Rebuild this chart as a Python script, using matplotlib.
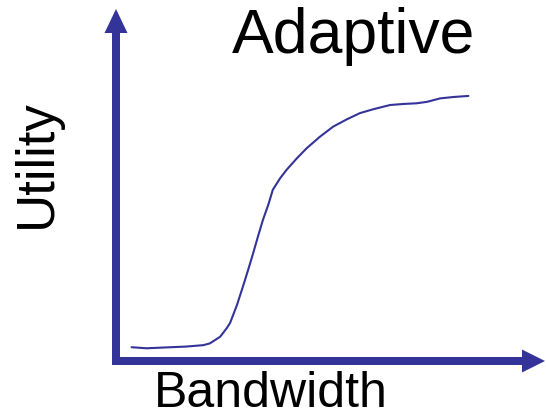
import matplotlib
matplotlib.use("Agg")
import matplotlib.pyplot as plt

plt.rcParams["font.family"] = ["Liberation Sans", "DejaVu Sans"]

# Utility vs bandwidth curve, normalised 0..1 on both axes
bandwidth = [0.034, 0.069, 0.163, 0.202, 0.217, 0.241, 0.256, 0.264, 0.280,
             0.294, 0.307, 0.318, 0.330, 0.341, 0.354, 0.364, 0.381, 0.396,
             0.420, 0.443, 0.474, 0.505, 0.537, 0.568, 0.599, 0.638, 0.669,
             0.700, 0.724, 0.755, 0.786, 0.821]
utility = [0.028, 0.025, 0.030, 0.034, 0.039, 0.058, 0.082, 0.097, 0.148,
           0.201, 0.252, 0.297, 0.348, 0.393, 0.438, 0.479, 0.512, 0.536,
           0.569, 0.598, 0.631, 0.660, 0.681, 0.699, 0.710, 0.722, 0.725,
           0.727, 0.731, 0.741, 0.745, 0.748]

title = "Adaptive"
xlabel = "Bandwidth"
ylabel = "Utility"

blue = "#333399"
W, H = 546, 420

fig = plt.figure(figsize=[W / 100, H / 100], dpi=100)

# overlay in pixel units for the arrows and text
overlay = fig.add_axes([0, 0, 1, 1])
overlay.set_xlim(0, W)
overlay.set_ylim(H, 0)
overlay.axis("off")

overlay.arrow(116, 365, 0, -356, width=8, head_width=23, head_length=24,
              length_includes_head=True, color=blue, lw=0)
overlay.arrow(112, 361, 433, 0, width=8, head_width=23, head_length=23,
              length_includes_head=True, color=blue, lw=0)

overlay.text(354, 53, title, fontsize=45, ha="center", va="baseline")
overlay.text(154, 407, xlabel, fontsize=36, ha="left", va="baseline")
overlay.text(51, 164, ylabel, fontsize=38, rotation=90, rotation_mode="anchor",
             ha="center", va="baseline")

ax = fig.add_axes([117 / W, (H - 357) / H, 428 / W, 349 / H])
ax.plot(bandwidth, utility, color=blue, lw=1.5, solid_joinstyle="round",
        solid_capstyle="round")
ax.set_xlim(0, 1)
ax.set_ylim(0, 1)
ax.axis("off")

fig.savefig("out.png", dpi=100)
